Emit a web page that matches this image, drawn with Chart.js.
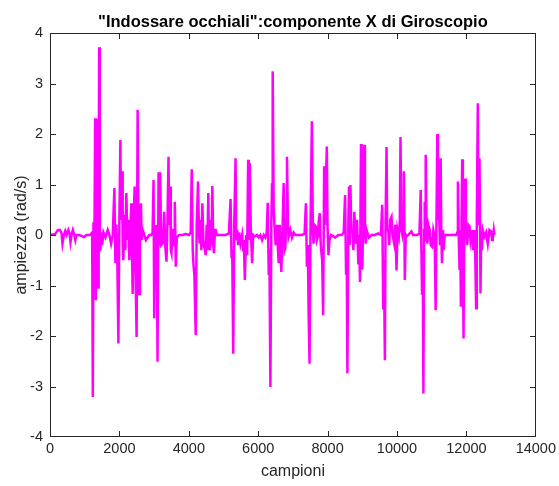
<!DOCTYPE html>
<html>
<head>
<meta charset="utf-8">
<script src="https://cdn.jsdelivr.net/npm/chart.js@4.4.1/dist/chart.umd.min.js"></script>
<style>
  html, body { margin: 0; padding: 0; background: #ffffff; overflow: hidden; }
  #wrap { width: 559px; height: 486px; }
  canvas { display: block; }
</style>
</head>
<body>
<div id="wrap"><canvas id="c" width="559" height="486"></canvas></div>
<script>
// ---- data ----
const titleText = '"Indossare occhiali":componente X di Giroscopio';
const xLabel = 'campioni';
const yLabel = 'ampiezza (rad/s)';
const xTicks = [0, 2000, 4000, 6000, 8000, 10000, 12000, 14000];
const yTicks = [-4, -3, -2, -1, 0, 1, 2, 3, 4];

const samples = [
  0,150,230,290,330,360,400,440,480,530,560,590,620,660,700,730,760,850,980,1050,1150,1215,
  1234,1253,1272,1301,1320,1339,1349,1368,1387,1402,1416,1435,1454,1473,1502,1540,1598,1664,1712,1760,1808,
  1856,1885,1913,1942,1971,2000,2028,2047,2076,2095,2114,2142,2171,2200,2229,2257,2286,2315,2343,2362,2382,2410,2439,2458,2496,2525,2554,2573,2592,2621,2640,2669,2716,2764,2812,2860,2917,2956,
  2984,3003,3032,3051,3080,3099,3128,3147,3175,3204,3242,3271,3290,3319,3357,3386,3415,3434,3462,3481,3501,3529,3548,3577,3596,3625,3653,3720,3816,3912,4007,4055,
  4084,4113,4132,4161,4199,4228,4266,4295,4314,4343,4362,4390,4419,4438,4467,4486,4515,4534,4562,4582,4610,4639,4658,4677,4706,4725,4754,4773,4801,4868,4964,5059,5155,
  5203,5232,5251,5280,5308,5347,5366,5394,5423,5452,5490,5538,5567,5586,5614,5652,5681,5710,5729,5758,5786,5825,5853,5901,5968,6016,6064,6112,6159,6207,6245,
  6274,6303,6322,6351,6379,6398,6417,6446,6475,6504,6542,6570,6590,6618,6666,6704,6733,6762,6781,6809,6829,6857,6876,6924,6972,7020,7068,7164,7259,7336,
  7374,7403,7432,7451,7479,7508,7546,7575,7594,7623,7661,7690,7718,7747,7776,7795,7814,7843,7871,7900,7919,7948,7977,7996,8024,8053,8101,8216,8311,8407,8464,
  8503,8531,8550,8570,8598,8617,8636,8656,8684,8713,8742,8770,8799,8818,8847,8885,8904,8933,8962,8981,9000,9029,9057,9076,9096,9124,9153,9191,9268,9363,9459,9535,
  9574,9602,9622,9650,9669,9698,9717,9746,9774,9803,9841,9870,9918,9947,9985,10014,10052,10081,10100,10128,10147,10176,10195,10214,10224,10252,10272,10320,10415,10463,10559,10645,
  10683,10702,10721,10740,10760,10779,10798,10817,10826,10855,10874,10903,10941,10970,11008,11046,11085,11113,11133,11161,11180,11209,11238,11257,11276,11295,11324,11343,11372,11419,11515,11611,11706,11735,
  11754,11783,11802,11821,11840,11859,11878,11897,11917,11936,11964,11983,11993,12021,12060,12089,12117,12156,12184,12213,12232,12251,12280,12299,12328,12347,12376,12395,12404,12423,12442,12471,12519,12567,12615,12662,12710,12739,12758,12787,12806
];

const gyroX = [
  0,0.02,0.1,0.1,0.04,-0.17,0,0.08,0,0.1,0.04,-0.14,0,0.1,0,-0.1,0,0,-0.04,0,0,0.05,
  -3.21,0.25,-1.0,2.31,-1.29,2.3,-0.9,1.5,-1.04,0.5,3.72,-0.3,-0.28,0.05,-0.2,0.05,-0.05,0.1,0,-0.17,0,
  0.93,-0.56,0.2,-0.6,-2.15,0.3,1.88,0.3,1.26,-0.2,-0.5,0.4,-0.3,0.83,-0.1,0.3,-0.5,0.1,0.63,-0.3,-1.17,0.3,0.96,-0.5,-2.02,2.48,-0.2,-1.17,0.1,0.63,-0.1,0.1,0,-0.1,-0.05,0,0,0.05,
  1.09,-1.65,0.2,-0.56,-0.3,-2.51,1.24,-0.2,1.24,-0.2,-0.17,0.1,0.46,-0.2,-0.53,0.3,1.55,0.2,0.96,-0.3,-0.36,0.1,0.1,-0.2,0.66,-0.63,-0.05,0,0,0.02,0,0.05,
  1.3,-0.3,-0.56,-0.8,-1.98,0.2,1.06,0,-0.17,0.3,-0.3,0.63,-0.1,-0.23,-0.3,-0.4,0.2,-0.3,0.83,-0.2,-0.3,0.3,-0.2,0.97,-0.2,-0.36,0.1,0.1,0,0,0,0,0.03,
  0.71,-0.46,-0.3,-2.35,0.2,1.52,-0.1,0.1,-0.2,0.05,-0.17,0,-0.3,-0.1,-0.89,0,-0.4,1.49,-0.1,1.42,0.1,-0.56,0,-0.03,0,-0.05,0,-0.1,0,-0.05,0.05,
  0.64,-0.79,-0.3,-3.01,0.3,1.0,3.24,0.5,0.1,-0.2,0.2,-0.3,-0.56,0.2,-0.73,0.2,1.03,-0.3,-0.26,0.3,1.55,0.2,-0.03,0.1,-0.05,0.05,0,0,0,0.02,
  0.63,-0.63,-0.2,-1.5,-2.55,0.2,2.25,0.1,-0.17,0.2,0.17,-0.1,-0.03,0.3,0.43,-0.1,-0.3,-0.5,-1.59,1.36,0.2,1.0,1.75,0.2,-0.4,-0.1,0,-0.05,0,0,0.05,
  0.79,-0.76,-0.3,-2.74,0.3,0.96,-0.2,0.99,0.1,0.1,-0.3,0.46,0,-0.17,0.3,-0.56,0,-0.93,1.8,0,-0.69,0.5,1.78,0.1,-0.17,0.1,0.03,-0.05,0,0,0.03,0,
  0.6,-1.45,-0.5,-2.48,0.2,1.74,0.1,0.1,-0.2,0.3,0.36,0,-0.17,0.2,-0.7,0.1,-0.03,0.3,1.94,0.1,0.03,0.3,1.26,0,-0.89,0,-0.03,0,0.07,0,0,0.02,
  0.89,-0.3,-1.16,-0.3,-3.14,0.1,0.66,-0.1,1.59,0,-0.17,0.2,0.1,-0.2,-0.23,0.1,-0.03,-1.49,0,2.0,0.3,0.5,-0.2,1.52,0,-0.56,0.1,-0.3,0,0,0,0,0,0.05,
  1.06,-0.2,-0.69,0.1,-1.42,0.2,1.5,-0.3,-2.05,0.2,1.12,0,0.1,-0.2,0.2,0.17,-0.1,0.1,-0.3,0,0.1,-0.3,-1.45,0.3,2.61,0.2,1.52,0,-1.16,-0.2,-0.3,0.1,-0.03,0.05,-0.17,0.1,0.07,-0.1,-0.07,0.1,0
];

// ---- chart ----
const FONT = "'Liberation Sans', Arial, Helvetica, sans-serif";
const points = samples.map((s, i) => ({ x: s, y: gyroX[i] }));

const matlabAxes = {
  id: 'matlabAxes',
  afterDraw(chart) {
    const { ctx, scales } = chart;
    const sx = scales.x, sy = scales.y;
    const L = Math.round(sx.getPixelForValue(0));
    const R = Math.round(sx.getPixelForValue(14000)) - 1;
    const T = Math.round(sy.getPixelForValue(4));
    const B = Math.round(sy.getPixelForValue(-4)) - 1;
    ctx.save();
    ctx.globalAlpha = 1;
    ctx.globalCompositeOperation = 'source-over';
    ctx.fillStyle = '#262626';
    // box
    ctx.fillRect(L, T, R - L + 1, 1);
    ctx.fillRect(L, B, R - L + 1, 1);
    ctx.fillRect(L, T, 1, B - T + 1);
    ctx.fillRect(R, T, 1, B - T + 1);
    // inward ticks on all four sides
    const tl = 5;
    xTicks.forEach(v => {
      const p = Math.min(R, Math.round(sx.getPixelForValue(v)));
      ctx.fillRect(p, B - tl, 1, tl);
      ctx.fillRect(p, T + 1, 1, tl);
    });
    yTicks.forEach(v => {
      const p = Math.min(B, Math.round(sy.getPixelForValue(v)));
      ctx.fillRect(L + 1, p, tl, 1);
      ctx.fillRect(R - tl, p, tl, 1);
    });
    ctx.restore();
  }
};

new Chart(document.getElementById('c'), {
  type: 'line',
  data: {
    datasets: [{
      data: points,
      borderColor: '#FF00FF',
      borderWidth: 2.5,
      pointRadius: 0,
      tension: 0,
      fill: false
    }]
  },
  options: {
    responsive: false,
    animation: false,
    devicePixelRatio: 1,
    layout: { padding: { left: 0, right: 21, top: 0, bottom: 0 } },
    plugins: {
      legend: { display: false },
      tooltip: { enabled: false },
      title: {
        display: true,
        text: titleText,
        fullSize: false,
        color: '#000000',
        font: { family: FONT, size: 16.5, weight: 'bold', lineHeight: 1.0 },
        padding: { top: 14, bottom: 2.5 }
      }
    },
    scales: {
      x: {
        type: 'linear',
        min: 0, max: 14000,
        afterFit(s) { s.height = 49; },
        afterBuildTicks(s) { s.ticks = xTicks.map(v => ({ value: v })); },
        grid: { display: false, drawTicks: false },
        border: { display: false },
        ticks: {
          padding: 3, color: '#262626', autoSkip: false, maxRotation: 0,
          font: { family: FONT, size: 14.5 },
          callback: v => String(v)
        },
        title: {
          display: true, text: xLabel, color: '#262626',
          font: { family: FONT, size: 16 },
          padding: { top: 0, bottom: 4.6 }
        }
      },
      y: {
        type: 'linear',
        min: -4, max: 4,
        afterFit(s) { s.width = 50; },
        afterBuildTicks(s) { s.ticks = yTicks.map(v => ({ value: v })); },
        grid: { display: false, drawTicks: false },
        border: { display: false },
        ticks: {
          padding: 7, color: '#262626', autoSkip: false,
          font: { family: FONT, size: 14.5 },
          callback: v => String(v)
        },
        title: {
          display: true, text: yLabel, color: '#262626',
          font: { family: FONT, size: 16 },
          padding: { top: 12.4, bottom: 0 }
        }
      }
    }
  },
  plugins: [matlabAxes]
});
</script>
</body>
</html>
